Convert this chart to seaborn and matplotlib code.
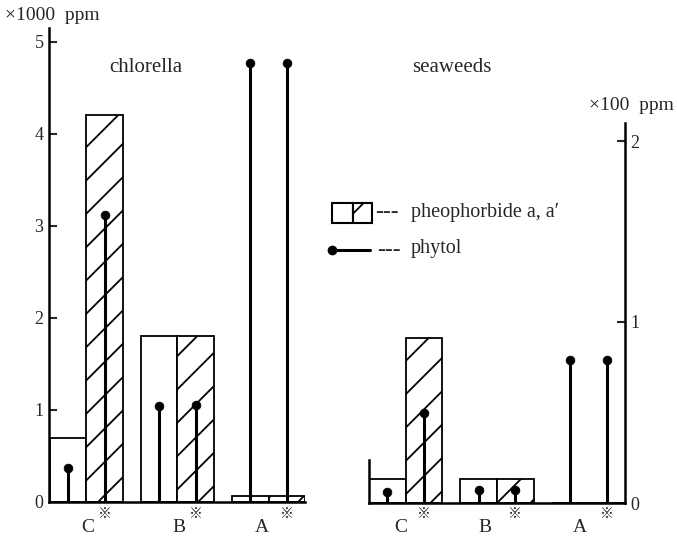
import numpy as np
import pandas as pd
import matplotlib
matplotlib.use("Agg")
import matplotlib.pyplot as plt
import seaborn as sns
from matplotlib.patches import Rectangle
from matplotlib.lines import Line2D

# ---------------- data ----------------
categories = ["C", "B", "A"]
chlorella_plain = [0.70, 1.80, 0.07]
chlorella_hatched = [4.21, 1.80, 0.07]
chlorella_phytol_plain = [0.37, 1.04, 4.77]
chlorella_phytol_hatched = [3.12, 1.05, 4.77]
seaweeds_plain = [0.13, 0.13, 0.0]
seaweeds_hatched = [0.91, 0.13, 0.0]
seaweeds_phytol_plain = [0.06, 0.07, 0.79]
seaweeds_phytol_hatched = [0.50, 0.07, 0.79]
left_ticks = [0, 1, 2, 3, 4, 5]
right_ticks = [0, 1, 2]

sns.set_style("white")
SERIF = ["Liberation Serif", "DejaVu Serif"]
MARK = ["Liberation Serif", "Noto Sans CJK JP", "DejaVu Sans"]
plt.rcParams["font.family"] = SERIF
plt.rcParams["hatch.linewidth"] = 1.3

W, H = 677, 540
fig = plt.figure(figsize=(W / 100, H / 100), dpi=100)


def fx(px):
    return px / W


def fy(py):
    return 1 - py / H


def panel(ax, plain, hatched, ph_plain, ph_hatched):
    df = pd.DataFrame({
        "cat": categories * 2,
        "value": list(plain) + list(hatched),
        "kind": ["plain"] * 3 + ["hatched"] * 3,
    })
    sns.barplot(data=df, x="cat", y="value", hue="kind", order=categories,
                hue_order=["plain", "hatched"], palette={"plain": "white", "hatched": "white"},
                saturation=1, edgecolor="black", linewidth=1.3, width=0.8,
                errorbar=None, legend=False, ax=ax)
    for bar in ax.containers[1]:
        bar.set_hatch("/")
    pos = np.arange(len(categories))
    xs = np.concatenate([pos - 0.2, pos + 0.2])
    ys = np.concatenate([ph_plain, ph_hatched])
    ax.vlines(xs, 0, ys, color="black", lw=2.2, zorder=4)
    sns.scatterplot(x=xs, y=ys, color="black", s=40, edgecolor="black", zorder=5, ax=ax)
    ax.set_xlabel("")
    ax.set_ylabel("")
    ax.set_xticks([])
    for s in ["top", "right", "left", "bottom"]:
        ax.spines[s].set_linewidth(1.8)
        ax.spines[s].set_color("black")


# left panel (chlorella)
axL = fig.add_axes([fx(49), 38 / H, (305 - 49) / W, 474 / H])
panel(axL, chlorella_plain, chlorella_hatched, chlorella_phytol_plain, chlorella_phytol_hatched)
axL.set_xlim(-0.41, 2.40)
axL.set_ylim(0, 5.15)
axL.spines["top"].set_visible(False)
axL.spines["right"].set_visible(False)
axL.set_yticks(left_ticks)
axL.tick_params(axis="y", direction="in", length=6, width=1.5, labelsize=13, pad=4, left=True)

# right panel (seaweeds)
axR = fig.add_axes([fx(369), 37 / H, (625 - 369) / W, 362 / H])
panel(axR, seaweeds_plain, seaweeds_hatched, seaweeds_phytol_plain, seaweeds_phytol_hatched)
axR.set_xlim(-0.40, 2.40)
axR.set_ylim(0, 2.0)
axR.spines["top"].set_visible(False)
axR.spines["right"].set_bounds(0, 2.1)
axR.spines["left"].set_bounds(0, 0.24)
axR.yaxis.tick_right()
axR.set_yticks(right_ticks)
axR.tick_params(axis="y", direction="in", length=6, width=1.5, labelsize=13, pad=4, right=True)

# category labels
for ax, offs in [(axL, [0.01, 0.02, -0.07]), (axR, [-0.05, -0.13, -0.09])]:
    tr = matplotlib.transforms.blended_transform_factory(ax.transData, fig.transFigure)
    for i, c in enumerate(categories):
        ax.text(i + offs[i], fy(528), c, transform=tr, ha="center", va="center", fontsize=14)
        ax.text(i + 0.2, fy(514), "※", transform=tr, ha="center", va="center",
                fontsize=10, family=MARK)

# titles and unit labels
fig.text(fx(146), fy(67), "chlorella", ha="center", va="center", fontsize=15)
fig.text(fx(452), fy(67), "seaweeds", ha="center", va="center", fontsize=15)
fig.text(fx(5), fy(15), "×1000  ppm", ha="left", va="center", fontsize=14)
fig.text(fx(589), fy(106), "×100  ppm", ha="left", va="center", fontsize=14)

# legend (drawn by hand)
fig.add_artist(Rectangle((fx(332), fy(223)), fx(353) - fx(332), fy(203) - fy(223),
                         transform=fig.transFigure, facecolor="white", edgecolor="black", lw=1.5))
fig.add_artist(Rectangle((fx(353), fy(223)), fx(372) - fx(353), fy(203) - fy(223),
                         transform=fig.transFigure, facecolor="white", edgecolor="black",
                         lw=1.5, hatch="/"))
fig.text(fx(375), fy(213), "---", ha="left", va="center", fontsize=17)
fig.text(fx(411), fy(212), "pheophorbide a, a′", ha="left", va="center", fontsize=14.5,
         family=MARK)
fig.add_artist(Line2D([fx(332), fx(370)], [fy(250), fy(250)], transform=fig.transFigure,
                      color="black", lw=2.2))
fig.add_artist(Line2D([fx(332)], [fy(250)], transform=fig.transFigure, marker="o",
                      markersize=6, color="black", lw=0))
fig.text(fx(377), fy(250), "---", ha="left", va="center", fontsize=17)
fig.text(fx(411), fy(249), "phytol", ha="left", va="center", fontsize=14.5)

fig.savefig("out.png", dpi=100)
